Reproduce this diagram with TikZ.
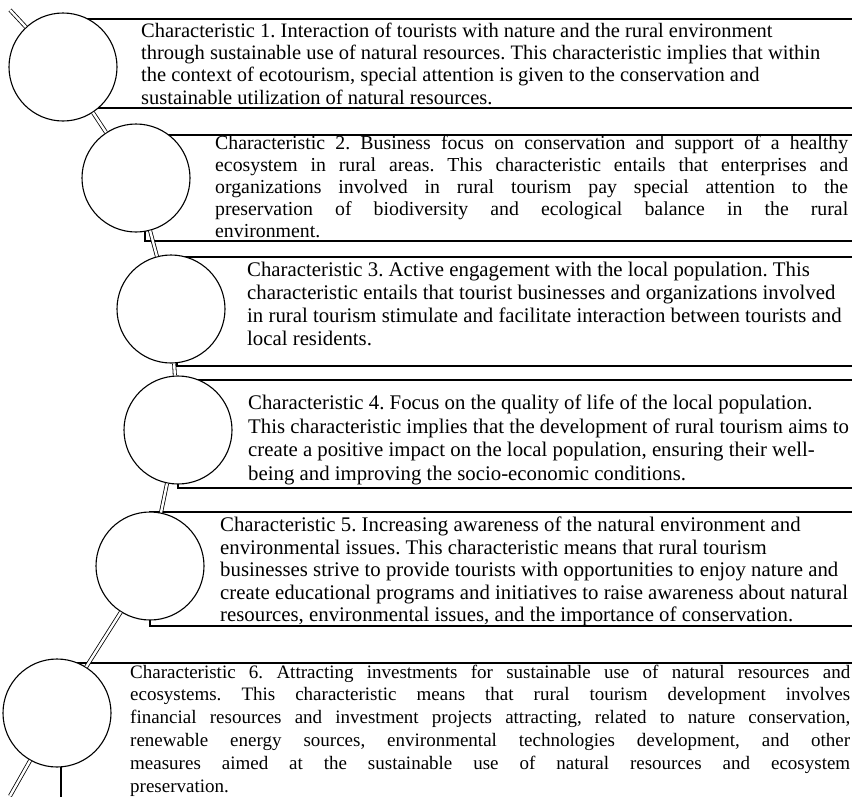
\documentclass[tikz,border=0pt]{standalone}
\usepackage{fontspec}
\setmainfont{Liberation Serif}
\usepackage{tikz}
\frenchspacing
\newcommand{\charbox}[3]{%
  \draw[boxline] (900,#2) -| (#1,#3) -- (900,#3);%
}
\newcommand{\chartext}[5]{%
  \node[chartxt,#4] (#1) at (#2,#3) {#5};%
}

\begin{document}
\begin{tikzpicture}[x=1pt,y=-1pt,
  boxline/.style={line width=1.7pt},
  bead/.style={circle,draw,line width=1.1pt,fill=white,minimum size=108pt,inner sep=0pt},
  thread/.style={double,line width=0.8pt,double distance=2.4pt},
  chartxt/.style={anchor=north west,inner sep=0pt}]
  \useasboundingbox (0,0) rectangle (852,796);
  % boxes
  \charbox{63}{19}{108}
  \charbox{145}{135}{241}
  \charbox{177}{257}{366}
  \charbox{178}{380}{488}
  \charbox{150}{512}{626}
  \charbox{61}{663}{830}
  % beads
  \node[bead] (c1) at (63,67) {};
  \node[bead] (c2) at (136,178) {};
  \node[bead] (c3) at (171,309) {};
  \node[bead] (c4) at (178,430) {};
  \node[bead] (c5) at (150,566) {};
  \node[bead] (c6) at (57,713) {};
  \coordinate (top) at (10,10);
  \coordinate (bot) at (10,796);
  \draw[thread] (top) -- (c1) (c1) -- (c2) (c2) -- (c3) (c3) -- (c4)
    (c4) -- (c5) (c5) -- (c6) (c6) -- (bot);
  % texts
  \chartext{t1}{141}{22.5}{align=left,font=\fontsize{20.5}{22.4}\selectfont}{Characteristic 1. Interaction of tourists with nature and the rural environment\\
    through sustainable use of natural resources. This characteristic implies that within\\
    the context of ecotourism, special attention is given to the conservation and\\
    sustainable utilization of natural resources.}
  \chartext{t2}{215}{135.5}{text width=633pt,align=justify,font=\fontsize{19.8}{22}\selectfont}{Characteristic 2. Business focus on conservation and support of a healthy\linebreak
    ecosystem in rural areas. This characteristic entails that enterprises and\linebreak
    organizations involved in rural tourism pay special attention to the\linebreak
    preservation of biodiversity and ecological balance in the rural\linebreak
    environment.}
  \chartext{t3}{247}{261.5}{align=left,font=\fontsize{20.8}{23}\selectfont}{Characteristic 3. Active engagement with the local population. This\\
    characteristic entails that tourist businesses and organizations involved\\
    in rural tourism stimulate and facilitate interaction between tourists and\\
    local residents.}
  \chartext{t4}{248}{395}{align=left,font=\fontsize{20.8}{23.5}\selectfont}{Characteristic 4. Focus on the quality of life of the local population.\\
    This characteristic implies that the development of rural tourism aims to\\
    create a positive impact on the local population, ensuring their well-\\
    being and improving the socio-economic conditions.}
  \chartext{t5}{220}{517}{align=left,font=\fontsize{20.8}{22.4}\selectfont}{Characteristic 5. Increasing awareness of the natural environment and\\
    environmental issues. This characteristic means that rural tourism\\
    businesses strive to provide tourists with opportunities to enjoy nature and\\
    create educational programs and initiatives to raise awareness about natural\\
    resources, environmental issues, and the importance of conservation.}
  \chartext{t6}{130}{664.5}{text width=720pt,align=justify,font=\fontsize{19}{22.8}\selectfont}{Characteristic 6. Attracting investments for sustainable use of natural resources and\linebreak
    ecosystems. This characteristic means that rural tourism development involves\linebreak
    financial resources and investment projects attracting, related to nature conservation,\linebreak
    renewable energy sources, environmental technologies development, and other\linebreak
    measures aimed at the sustainable use of natural resources and ecosystem\linebreak
    preservation.}
\end{tikzpicture}
\end{document}
